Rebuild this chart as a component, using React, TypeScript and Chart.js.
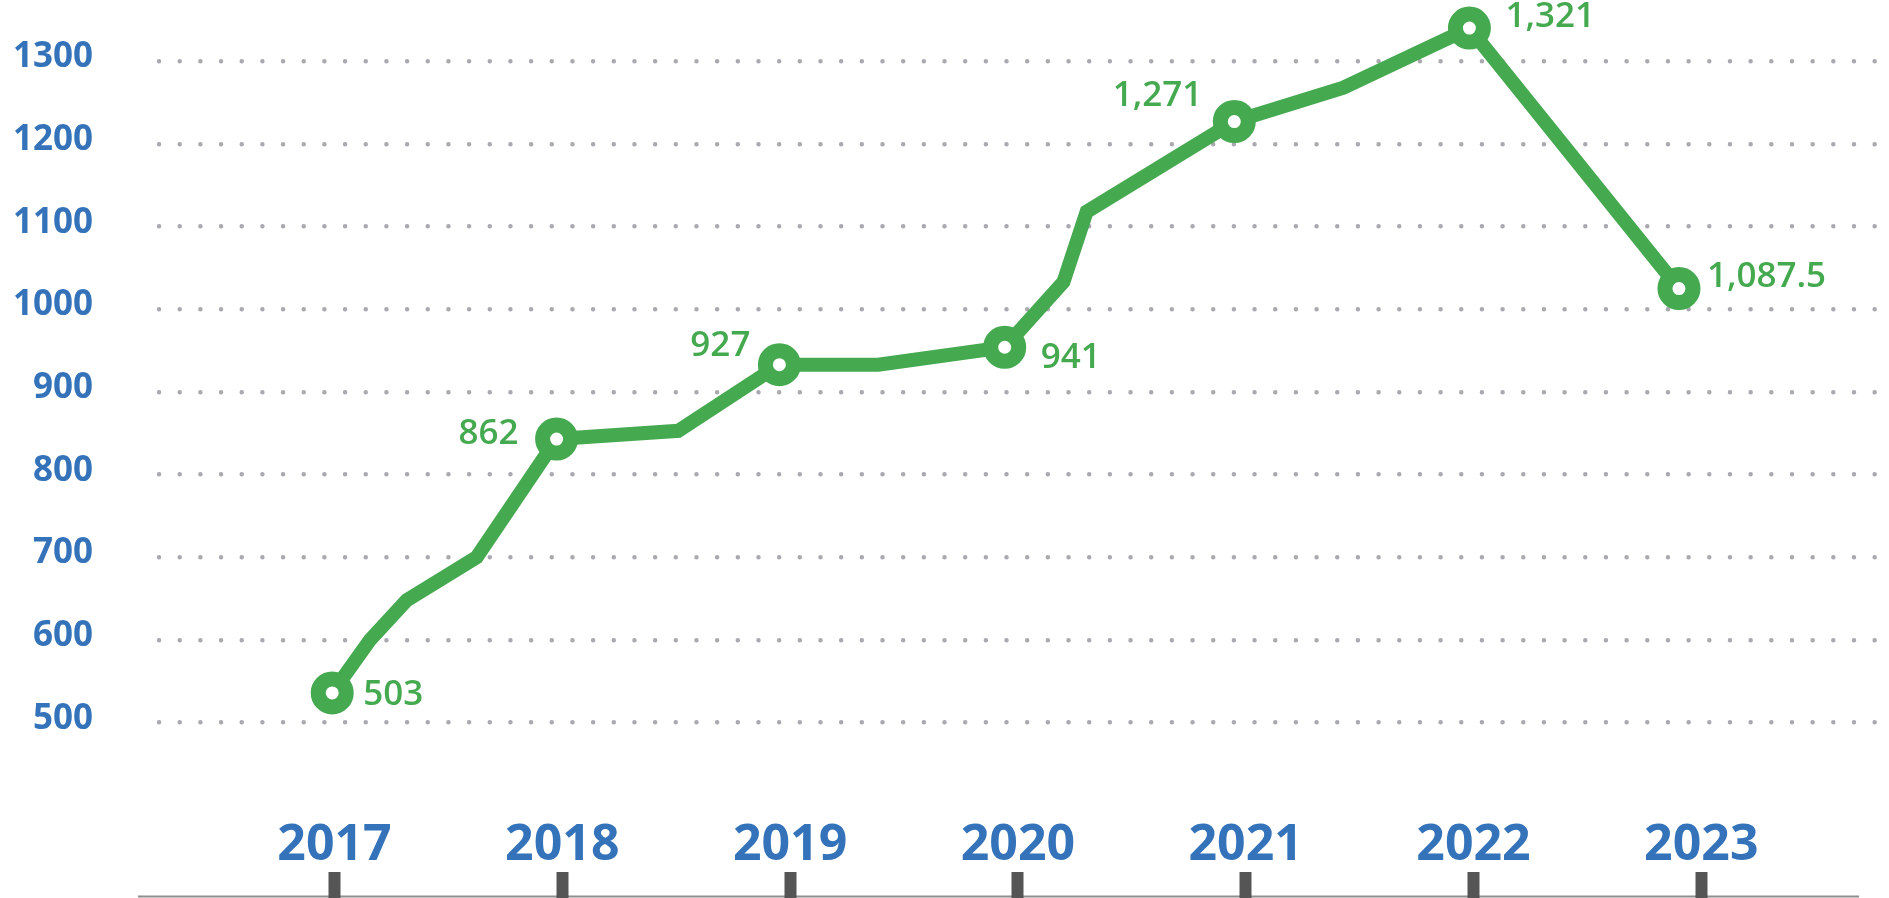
import React, { useEffect, useRef } from 'react';
import { Chart, registerables } from 'chart.js';

Chart.register(...registerables);

// ---- data ----
const YEAR_TICKS = [2017, 2018, 2019, 2020, 2021, 2022, 2023];
const VALUE_TICKS = [500, 600, 700, 800, 900, 1000, 1100, 1200, 1300];

const SERIES_X = [
  2016.99, 2017.156, 2017.317, 2017.624, 2017.975, 2018.509, 2018.953, 2019.387,
  2019.942, 2020.2, 2020.302, 2020.95, 2021.429, 2021.982, 2022.902,
];
const SERIES_Y = [
  536, 600, 648, 700, 843, 853, 933, 933, 954, 1033, 1118, 1227, 1268, 1340, 1025,
];
const POINT_LABELS = [
  '503', '', '', '', '862', '', '927', '', '941', '', '', '1,271', '', '1,321', '1,087.5',
];

// ---- axis ranges ----
const X_MIN = 2016.2296;
const X_MAX = 2023.824;
const Y_MIN = 450;
const Y_MAX = 1374;

// ---- styles ----
const GREEN = '#44A94F';
const BLUE = '#3473BA';
const DOT = '#A9A9AF';
const FONT = "'Open Sans', 'Liberation Sans', sans-serif";

const LABEL_PLACEMENT: { align: CanvasTextAlign; dx: number; dy: number }[] = [
  { align: 'left', dx: 31, dy: 2 },
  { align: 'right', dx: -38, dy: -5 },
  { align: 'right', dx: -29, dy: -19 },
  { align: 'left', dx: 36, dy: 11 },
  { align: 'right', dx: -32, dy: -26 },
  { align: 'left', dx: 36, dy: -11 },
  { align: 'left', dx: 28, dy: -11.5 },
];

const capStyle = {
  id: 'capStyle',
  beforeDraw(chart: any) {
    chart.ctx.lineCap = 'round';
  },
  beforeDatasetsDraw(chart: any) {
    chart.ctx.lineCap = 'butt';
  },
};

const baseline = {
  id: 'baseline',
  beforeDatasetsDraw(chart: any) {
    const ctx = chart.ctx;
    const { left, right } = chart.chartArea;
    ctx.save();
    ctx.lineCap = 'butt';
    ctx.strokeStyle = '#8E8E8E';
    ctx.lineWidth = 2;
    ctx.beginPath();
    ctx.moveTo(left - 21, chart.height - 1.5);
    ctx.lineTo(right - 30, chart.height - 1.5);
    ctx.stroke();
    ctx.restore();
  },
};

const valueLabels = {
  id: 'valueLabels',
  afterDatasetsDraw(chart: any) {
    const ctx = chart.ctx;
    const meta = chart.getDatasetMeta(0);
    let k = 0;
    ctx.save();
    ctx.font = `600 35px ${FONT}`;
    ctx.fillStyle = GREEN;
    ctx.textBaseline = 'middle';
    POINT_LABELS.forEach((label, i) => {
      if (!label) return;
      const p = LABEL_PLACEMENT[k++];
      const el = meta.data[i];
      ctx.textAlign = p.align;
      ctx.fillText(label, el.x + p.dx, el.y + p.dy);
    });
    ctx.restore();
  },
};

export default function App() {
  const ref = useRef<HTMLCanvasElement>(null);

  useEffect(() => {
    const canvas = ref.current!;
    const chart = new Chart(canvas, {
      type: 'line',
      data: {
        datasets: [
          {
            data: SERIES_X.map((x, i) => ({ x, y: SERIES_Y[i] })),
            borderColor: GREEN,
            borderWidth: 14,
            tension: 0,
            fill: false,
            clip: false as any,
            borderJoinStyle: 'miter',
            borderCapStyle: 'round',
            pointRadius: (c: any) => (POINT_LABELS[c.dataIndex] ? 14 : 0),
            pointHoverRadius: (c: any) => (POINT_LABELS[c.dataIndex] ? 14 : 0),
            pointBorderWidth: 15,
            pointHoverBorderWidth: 15,
            pointBackgroundColor: '#FFFFFF',
            pointBorderColor: GREEN,
          },
        ],
      },
      options: {
        responsive: false,
        animation: false,
        devicePixelRatio: 1,
        events: [],
        layout: { padding: 0, autoPadding: false },
        plugins: {
          legend: { display: false },
          tooltip: { enabled: false },
          title: { display: false },
        },
        scales: {
          x: {
            type: 'linear',
            position: 'bottom',
            weight: 0,
            min: X_MIN,
            max: X_MAX,
            grid: { display: false },
            border: { display: false },
            afterBuildTicks: (s: any) => {
              s.ticks = YEAR_TICKS.map((v) => ({ value: v }));
            },
            afterFit: (s: any) => {
              s.height = 108;
              s.paddingLeft = 0;
              s.paddingRight = 0;
              s.paddingTop = 0;
              s.paddingBottom = 0;
            },
            ticks: {
              autoSkip: false,
              maxRotation: 0,
              padding: 43.5,
              color: BLUE,
              font: { family: FONT, size: 50, weight: 'bold' },
              callback: (v: any) => String(v),
            },
          },
          x2: {
            type: 'linear',
            position: 'bottom',
            weight: 1,
            min: X_MIN,
            max: X_MAX,
            grid: {
              display: true,
              drawOnChartArea: false,
              drawTicks: true,
              tickLength: 26,
              tickWidth: 12,
              tickColor: '#555555',
              color: '#555555',
              z: 1,
            },
            border: { display: false },
            afterBuildTicks: (s: any) => {
              s.ticks = YEAR_TICKS.map((v) => ({ value: v }));
            },
            afterFit: (s: any) => {
              s.height = 26;
              s.paddingLeft = 0;
              s.paddingRight = 0;
              s.paddingTop = 0;
              s.paddingBottom = 0;
            },
            ticks: { display: false, autoSkip: false },
          },
          y: {
            type: 'linear',
            position: 'left',
            min: Y_MIN,
            max: Y_MAX,
            grid: {
              display: true,
              drawTicks: false,
              color: DOT,
              lineWidth: 4.4,
            },
            border: { display: false, dash: [0.1, 20.57] },
            afterBuildTicks: (s: any) => {
              s.ticks = VALUE_TICKS.map((v) => ({ value: v }));
            },
            afterFit: (s: any) => {
              s.width = 159;
              s.paddingTop = 0;
              s.paddingBottom = 0;
              s.paddingLeft = 0;
              s.paddingRight = 0;
            },
            ticks: {
              autoSkip: false,
              padding: 66,
              labelOffset: -4,
              color: BLUE,
              font: { family: FONT, size: 35, weight: 'bold' },
              callback: (v: any) => String(v),
            },
          },
        },
      } as any,
      plugins: [capStyle, baseline, valueLabels],
    });
    return () => chart.destroy();
  }, []);

  return (
    <div
      style={{
        position: 'fixed',
        left: 0,
        top: 0,
        width: 1889,
        height: 898,
        background: '#FFFFFF',
      }}
    >
      <canvas
        ref={ref}
        width={1889}
        height={898}
        style={{ display: 'block', width: 1889, height: 898 }}
      />
    </div>
  );
}
